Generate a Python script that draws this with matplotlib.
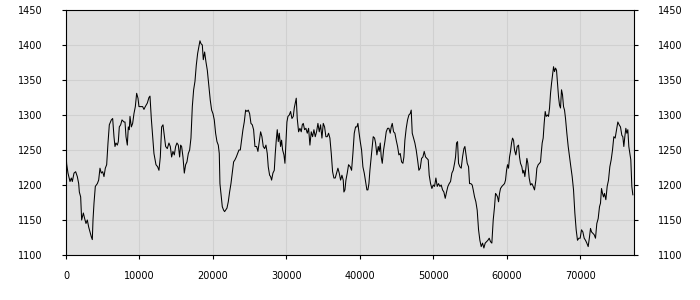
import numpy as np
import matplotlib
matplotlib.use("Agg")
import matplotlib.pyplot as plt

# values
x_vals = [0, 90, 270, 545, 725, 860, 1090, 1315, 1540, 1725, 1815, 1995, 2130, 2360, 2540, 2720, 2900,
          3085, 3265, 3445, 3580, 3675, 3810, 3990, 4265, 4445, 4625, 4805, 4990, 5170, 5350, 5535,
          5715, 5895, 6170, 6350, 6530, 6665, 6800, 6985, 7120, 7255, 7440, 7620, 7890, 8030, 8165,
          8345, 8480, 8615, 8710, 8890, 9070, 9250, 9435, 9615, 9795, 9930, 10160, 10430, 10610,
          10790, 11065, 11290, 11430, 11610, 11790, 11970, 12245, 12470, 12650, 12835,
          13015, 13200, 13380, 13560, 13785, 14010, 14195, 14375, 14555, 14740, 14920, 15100, 15285,
          15465, 15600, 15735, 15920, 16100, 16280, 16460, 16645, 16825, 17005, 17190, 17370, 17550,
          17730, 17915, 18095, 18230, 18365, 18550, 18685, 18865, 19045, 19230, 19455, 19635, 19820,
          20000, 20180, 20360, 20545, 20725, 20860, 20950, 21090, 21270, 21450, 21585, 21720, 21905,
          22085, 22265, 22450, 22630, 22810, 22995, 23175, 23355, 23535, 23720, 23900, 24080, 24260,
          24445, 24625, 24805, 24990, 25170, 25350, 25530, 25715,
          25940, 26120, 26300, 26485, 26665, 26845, 27030, 27210, 27390, 27525, 27710, 27845, 27980,
          28160, 28345, 28480, 28615, 28750, 28890, 29025, 29205, 29340, 29480, 29660, 29795, 29930,
          30065, 30205, 30385, 30565, 30750, 30930, 31065, 31200, 31335, 31470, 31655, 31835, 32015,
          32155, 32290, 32470, 32650, 32835, 33015, 33195, 33375, 33560, 33740, 33920, 34100, 34285,
          34465, 34645, 34830, 35010, 35190, 35370, 35555, 35735, 35915, 36100, 36280, 36460, 36640,
          36825, 37005, 37185, 37370, 37550, 37730, 37820, 37960, 38095, 38275, 38455, 38685,
          38865, 39045, 39230, 39410, 39590, 39725, 39865, 40045, 40225, 40405, 40590, 40770, 40950,
          41085, 41225, 41360, 41495, 41675, 41810, 41995, 42130, 42310, 42495, 42630, 42765, 42900,
          43040, 43220, 43400, 43580, 43765, 43945, 44125, 44260, 44400, 44580, 44760, 44940, 45125,
          45305, 45485, 45670, 45850, 45985, 46120, 46300, 46485, 46665, 46845, 46980, 47120, 47300,
          47480, 47660, 47845, 48025, 48205, 48390, 48570, 48750, 48935, 49115, 49295, 49430, 49615,
          49795, 49975, 50155, 50340, 50520, 50700, 50885, 51065, 51245, 51425, 51610,
          51790, 51970, 52150, 52335, 52515, 52695, 52880, 53015, 53150, 53285, 53420, 53605, 53785,
          53965, 54150, 54285, 54420, 54600, 54785, 54920, 55100, 55280, 55420, 55600, 55780, 55960,
          56145, 56325, 56505, 56690, 56870, 57050, 57230, 57415, 57595, 57775, 57955, 58140, 58320,
          58455, 58590, 58730, 58865, 59000, 59135, 59320, 59500, 59680, 59815, 59955, 60090, 60225,
          60360, 60495, 60635, 60770, 60905, 61040, 61220, 61405, 61585, 61720, 61855, 62040, 62175,
          62310, 62445, 62585, 62720, 62855, 63035, 63215, 63400, 63580, 63760, 63945, 64080, 64260,
          64440, 64580,
          64670, 64805, 64940, 65075, 65215, 65350, 65530, 65665, 65805, 65940, 66075, 66210, 66350,
          66485, 66620, 66755, 66890, 67030, 67165, 67300, 67435, 67570, 67710, 67845, 67980, 68160,
          68345, 68525, 68705, 68885, 69070, 69250, 69430, 69610, 69795, 69975, 70155, 70340, 70520,
          70700, 70880, 71065, 71245, 71380, 71520, 71700, 71880, 72060, 72240, 72425, 72605, 72740,
          72880, 73015, 73150, 73285, 73470, 73650, 73830, 74010, 74195, 74375, 74555, 74735, 74920,
          75100, 75280, 75460, 75645, 75780, 75915, 76050, 76190, 76325, 76460, 76595, 76730, 76865,
          77005, 77140]

y_vals = [1245, 1230, 1217, 1205, 1210, 1205, 1217, 1219, 1212, 1202, 1190, 1183, 1150, 1160, 1152, 1145, 1150,
          1140, 1133, 1126, 1122, 1150, 1174, 1198, 1202, 1207, 1224, 1217, 1219, 1212, 1224, 1229,
          1260, 1286, 1293, 1295, 1269, 1255, 1260, 1257, 1262, 1283, 1286, 1293, 1290, 1290, 1269,
          1257, 1283, 1279, 1298, 1283, 1288, 1302, 1312, 1331, 1324, 1312, 1312, 1312, 1308,
          1312, 1317, 1325, 1327, 1295, 1269, 1245, 1229, 1226, 1221, 1240,
          1283, 1286, 1271, 1255, 1252, 1260, 1255, 1240, 1248, 1243, 1255, 1260, 1257,
          1240, 1257, 1255, 1240, 1217, 1229, 1233, 1245, 1250, 1267, 1312, 1336, 1348,
          1371, 1388, 1398, 1406, 1402, 1400, 1379, 1390, 1376, 1364, 1340, 1321, 1307,
          1302, 1293, 1274, 1262, 1257, 1245, 1202, 1188, 1169, 1164, 1162, 1164, 1167,
          1176, 1190, 1202, 1217, 1233, 1236, 1240, 1245, 1250, 1250, 1264, 1279, 1290,
          1307, 1305, 1307, 1302, 1288, 1286, 1279, 1255,
          1255, 1248, 1262, 1276, 1269, 1255, 1252, 1257, 1245, 1226, 1214, 1212, 1207,
          1217, 1221, 1245, 1264, 1279, 1262, 1274, 1255, 1264, 1250, 1243, 1231, 1260,
          1290, 1298, 1300, 1305, 1295, 1298, 1310, 1317, 1324, 1295, 1276, 1281, 1276,
          1286, 1288, 1279, 1281, 1274, 1281, 1257, 1276, 1269, 1279, 1269, 1276, 1288,
          1276, 1286, 1267, 1288, 1283, 1269, 1269, 1274, 1267, 1245, 1219, 1210, 1210,
          1217, 1224, 1217, 1207, 1214, 1207, 1190, 1193, 1207, 1217, 1229, 1226,
          1221, 1245, 1274, 1283, 1283, 1288, 1276, 1262, 1250, 1226, 1217, 1205, 1193,
          1193, 1202, 1221, 1236, 1255, 1269, 1267, 1260, 1243, 1255, 1248, 1260, 1240,
          1231, 1250, 1262, 1276, 1281, 1281, 1274, 1283, 1288, 1276, 1274, 1264, 1255,
          1243, 1245, 1233, 1231, 1240, 1264, 1281, 1293, 1300, 1302, 1307, 1274, 1267,
          1260, 1250, 1236, 1221, 1224, 1238, 1240, 1248, 1240, 1238, 1236, 1214, 1202,
          1195, 1200, 1198, 1210, 1198, 1202, 1198, 1200, 1193, 1190, 1181,
          1190, 1198, 1202, 1205, 1217, 1221, 1231, 1240, 1260, 1262, 1231, 1226, 1224,
          1240, 1252, 1255, 1245, 1231, 1226, 1202, 1202, 1200, 1193, 1183, 1176, 1164,
          1136, 1121, 1112, 1117, 1110, 1117, 1119, 1121, 1124, 1119, 1117, 1150, 1169,
          1188, 1186, 1183, 1176, 1188, 1195, 1198, 1200, 1202, 1207, 1221, 1229, 1224,
          1240, 1248, 1260, 1267, 1264, 1250, 1243, 1255, 1257, 1240, 1231, 1226, 1217,
          1221, 1212, 1224, 1238, 1231, 1210, 1200, 1202, 1198, 1193, 1207, 1224, 1229,
          1231, 1233,
          1245, 1260, 1267, 1288, 1305, 1298, 1300, 1298, 1310, 1331, 1345, 1357, 1369,
          1362, 1367, 1364, 1345, 1326, 1314, 1310, 1336, 1329, 1312, 1307, 1295, 1274,
          1255, 1240, 1226, 1212, 1193, 1160, 1136, 1121, 1124, 1124, 1136, 1133, 1124,
          1121, 1117, 1112, 1126, 1138, 1133, 1131, 1129, 1124, 1145, 1152, 1169, 1174,
          1195, 1188, 1183, 1188, 1179, 1198, 1207, 1226, 1236, 1250, 1269, 1267, 1279,
          1290, 1286, 1283, 1271, 1269, 1255, 1269, 1281, 1274, 1279, 1255, 1245, 1236,
          1198, 1186]

x_ticks = [0, 10000, 20000, 30000, 40000, 50000, 60000, 70000]
y_ticks = [1100, 1150, 1200, 1250, 1300, 1350, 1400, 1450]

fig = plt.figure(figsize=(7, 3), dpi=100)
ax = fig.add_axes([66 / 700, 45 / 300, 568 / 700, 245 / 300])
ax.set_facecolor("#e0e0e0")

ax.plot(x_vals, y_vals, color="black", linewidth=0.75)

ax.set_xlim(0, 77300)
ax.set_ylim(1100, 1450)
ax.set_xticks(x_ticks)
ax.set_yticks(y_ticks)
ax.grid(True, color="#d0d0d0", linewidth=0.8)
ax.set_axisbelow(True)

for s in ax.spines.values():
    s.set_color("black")
    s.set_linewidth(0.8)

ax.tick_params(axis="y", direction="out", length=3, width=0.8, labelsize=7,
               left=True, right=True, labelleft=True, labelright=True, pad=14)
ax.tick_params(axis="x", direction="out", length=3, width=0.8, labelsize=7, pad=8.5)

fig.savefig("out.png", dpi=100)
